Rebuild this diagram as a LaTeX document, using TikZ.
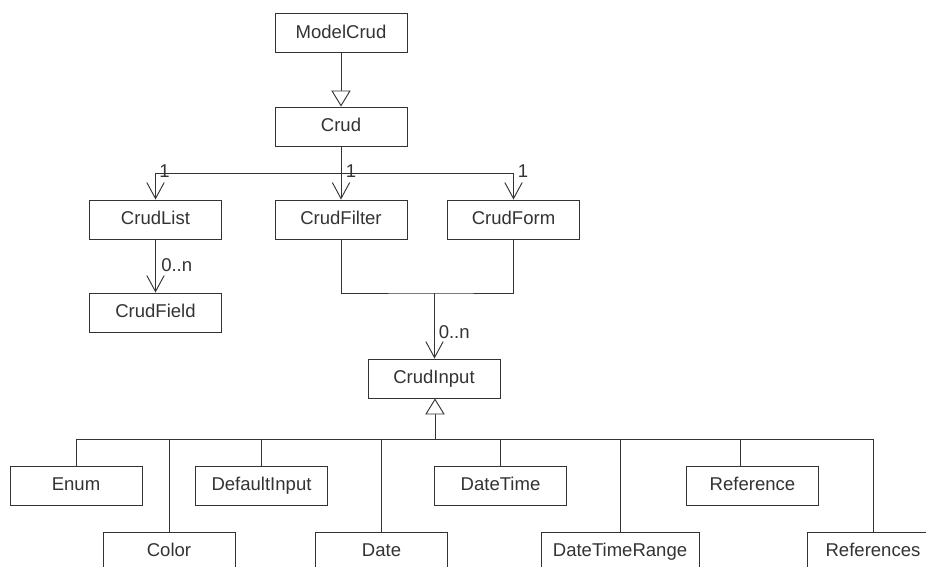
\documentclass[tikz,border=0pt]{standalone}
\usepackage{fontspec}
\setmainfont{Liberation Sans}
\usetikzlibrary{arrows.meta,calc}
\definecolor{ink}{HTML}{333333}
\tikzset{
  cls/.style={draw=ink, line width=0.7pt, fill=white, text=ink,
    minimum width=99pt, minimum height=29.25pt, inner sep=0pt,
    text height=10pt, text depth=2pt,
    font=\fontsize{13.9}{16}\selectfont},
  link/.style={draw=ink, line width=0.7pt},
  assoc/.style={link, -{Straight Barb[length=12pt,width=13pt,line width=0.7pt]}},
  gen/.style={link, -{Triangle[open,length=12pt,width=14.5pt,line width=0.7pt,fill=white]}},
  mult/.style={text=ink, inner sep=0pt, font=\fontsize{13.9}{16}\selectfont}
}
\begin{document}
\begin{tikzpicture}[x=0.75pt,y=-0.75pt]
  \useasboundingbox (0,0) rectangle (926,567);
  \clip (0,0) rectangle (926,567);

  % classes
  \node[cls] (modelcrud) at (341,33) {ModelCrud};
  \node[cls] (crud) at (341,126.5) {Crud};
  \node[cls] (crudlist) at (155.5,219.5) {CrudList};
  \node[cls] (crudfilter) at (341,219.5) {CrudFilter};
  \node[cls] (crudform) at (513.5,219.5) {CrudForm};
  \node[cls] (crudfield) at (155.5,312.5) {CrudField};
  \node[cls] (crudinput) at (434,378.5) {CrudInput};

  \node[cls] (enum) at (76,485.5) {Enum};
  \node[cls] (defaultinput) at (261.5,485.5) {DefaultInput};
  \node[cls] (datetime) at (500.5,485.5) {DateTime};
  \node[cls] (reference) at (752.5,485.5) {Reference};
  \node[cls] (color) at (169,551.5) {Color};
  \node[cls] (date) at (381.5,551.5) {Date};
  \node[cls, minimum width=118.5pt] (datetimerange) at (620,551.5) {DateTimeRange};
  \node[cls] (references) at (873,551.5) {References};

  % routing points
  \coordinate (topbus) at (341,173);
  \coordinate (merge) at (434.5,293);
  \coordinate (gbus) at (435,439);
  \coordinate (refdrop) at ($(reference.north)+(-12.5,0)$);

  % ModelCrud extends Crud
  \draw[gen] (modelcrud) -- (crud);

  % Crud associations
  \draw[assoc] (crud.south) -- (topbus) -| (crudlist.north);
  \draw[assoc] (crud.south) -- (crudfilter.north);
  \draw[assoc] (topbus) -| (crudform.north);
  \node[mult] (m1) at ($(crudlist.north |- topbus)+(9,-2)$) {1};
  \node[mult] (m2) at ($(crudfilter.north |- topbus)+(10,-2)$) {1};
  \node[mult] (m3) at ($(crudform.north |- topbus)+(9.5,-2)$) {1};

  % CrudList to CrudField
  \draw[assoc] (crudlist) -- (crudfield);
  \node[mult, anchor=west] (m4) at ($(crudfield.north)+(5.5,-27.5)$) {0..n};

  % CrudFilter and CrudForm to CrudInput
  \draw[link] (crudfilter.south) |- (merge) -| (crudform.south);
  \draw[assoc] (merge) -- (merge |- crudinput.north);
  \node[mult, anchor=west] (m5) at ($(merge |- crudinput.north)+(4,-26.5)$) {0..n};

  % CrudInput specialisations
  \draw[gen] (gbus) -- (gbus |- crudinput.south);
  \draw[link] (enum.north |- gbus) -- (references.north |- gbus);
  \foreach \n in {enum,defaultinput,datetime,color,date,datetimerange,references}
    \draw[link] (\n.north) -- (\n.north |- gbus);
  \draw[link] (refdrop) -- (refdrop |- gbus);
\end{tikzpicture}
\end{document}
